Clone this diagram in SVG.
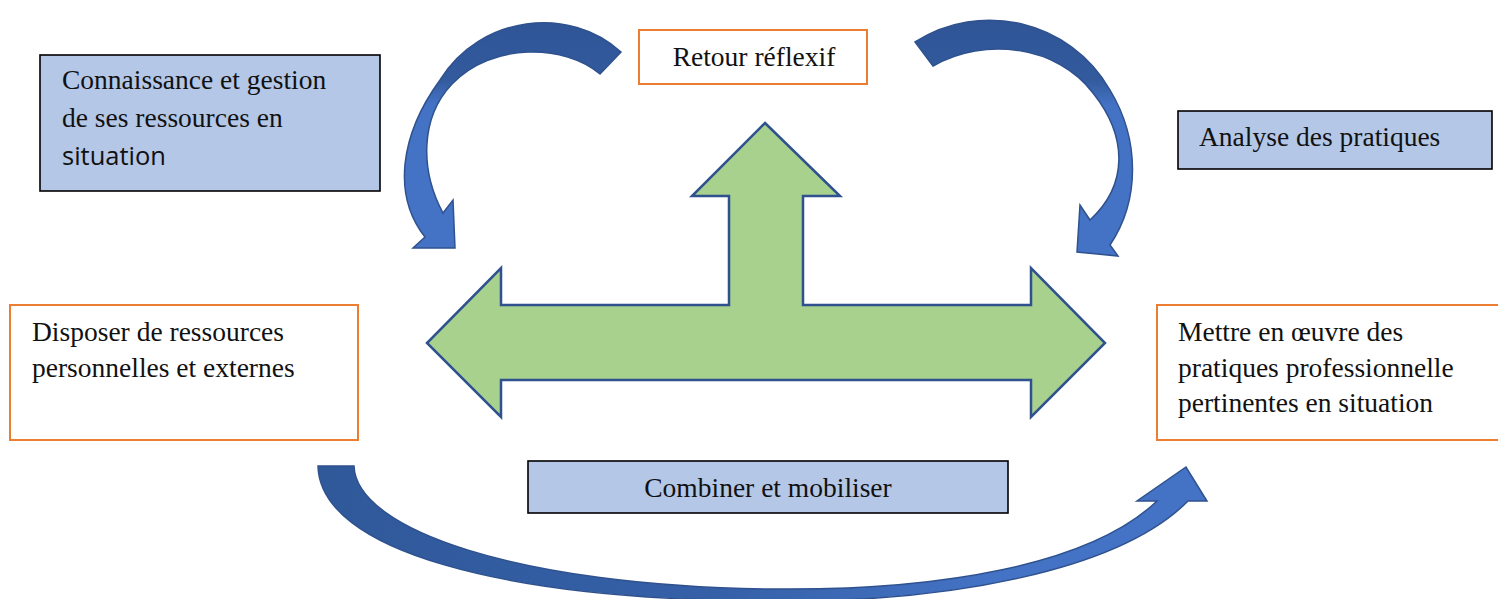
<svg xmlns="http://www.w3.org/2000/svg" width="1498" height="599" viewBox="0 0 1498 599">
  <style>
    .blue { fill: #B4C7E7; stroke: #000000; stroke-width: 1.6; }
    .orange { fill: #FFFFFF; stroke: #ED7D31; stroke-width: 2; }
    .t { font-family: "Liberation Serif", "Times New Roman", serif; font-size: 27.5px; fill: #111111; }
    .s { font-family: "Open Sans", "Noto Sans", sans-serif; font-size: 25.5px; fill: #111111; }
    .curve { stroke: #2F528F; stroke-width: 1.5; stroke-linejoin: miter; }
  </style>
  <defs>
    <linearGradient id="gv" x1="0" y1="0" x2="0" y2="1">
      <stop offset="0" stop-color="#2F5597"/>
      <stop offset="0.25" stop-color="#325A9C"/>
      <stop offset="0.36" stop-color="#4472C4"/>
      <stop offset="1" stop-color="#4472C4"/>
    </linearGradient>
    <linearGradient id="gh" x1="0" y1="0" x2="1" y2="0">
      <stop offset="0" stop-color="#30599A"/>
      <stop offset="0.45" stop-color="#3560A8"/>
      <stop offset="0.75" stop-color="#4472C4"/>
      <stop offset="1" stop-color="#4472C4"/>
    </linearGradient>
  </defs>
  <rect width="1498" height="599" fill="#FFFFFF"/>

  <g id="connectors">
    <path id="green-t-arrow" d="M 765,123 L 840,196 L 803,196 L 803,305 L 1031,305 L 1031,268 L 1105,343 L 1031,417 L 1031,380 L 501,380 L 501,417 L 427,343 L 501,268 L 501,305 L 729,305 L 729,196 L 692,196 Z" fill="#A9D18E" stroke="#2F528F" stroke-width="2.5" stroke-linejoin="miter"/>
    <path id="arc-top-left" class="curve" fill="url(#gv)" d="M 621,52 C 570,5 480,15 440,80 C 400,135 392,195 425,237 L 413,248 L 455,248 L 453,200 L 443,213 C 420,170 420,118 452,84 C 492,42 565,44 600,74 Z"/>
    <path id="arc-top-right" class="curve" fill="url(#gv)" d="M 915,42 C 980,0 1070,20 1110,90 C 1140,140 1140,200 1110,245 L 1118,256 L 1077,252 L 1080,205 L 1090,220 C 1128,185 1128,137 1093,93 C 1058,46 985,36 933,66 Z"/>
    <path id="arc-bottom" class="curve" fill="url(#gh)" d="M 318,466 C 320,550 500,600 770,601 C 950,603 1120,570 1188,501 L 1207,501 L 1186,467 L 1137,501 L 1157,501 C 1090,565 940,591 770,589 C 520,586 356,530 354,466 Z"/>
  </g>

  <g id="node-connaissance">
    <rect class="blue" x="40" y="55" width="340" height="136"/>
    <text class="t" x="62" y="89">Connaissance et gestion</text>
    <text class="t" x="62" y="127">de ses ressources en</text>
    <text class="s" x="62" y="165">situation</text>
  </g>

  <g id="node-retour">
    <rect class="orange" x="639" y="30" width="228" height="54"/>
    <text class="t" x="754" y="66" text-anchor="middle">Retour réflexif</text>
  </g>

  <g id="node-analyse">
    <rect class="blue" x="1178" y="111" width="314" height="58"/>
    <text class="t" x="1199" y="146">Analyse des pratiques</text>
  </g>

  <g id="node-disposer">
    <rect class="orange" x="10" y="305" width="348" height="135"/>
    <text class="t" x="32" y="341">Disposer de ressources</text>
    <text class="t" x="32" y="377">personnelles et externes</text>
  </g>

  <g id="node-mettre">
    <rect class="orange" x="1157" y="305" width="350" height="135"/>
    <text class="t" x="1178" y="341">Mettre en œuvre des</text>
    <text class="t" x="1178" y="377">pratiques professionnelle</text>
    <text class="t" x="1178" y="412">pertinentes en situation</text>
  </g>

  <g id="node-combiner">
    <rect class="blue" x="528" y="461" width="480" height="52"/>
    <text class="t" x="768" y="497" text-anchor="middle">Combiner et mobiliser</text>
  </g>
</svg>
